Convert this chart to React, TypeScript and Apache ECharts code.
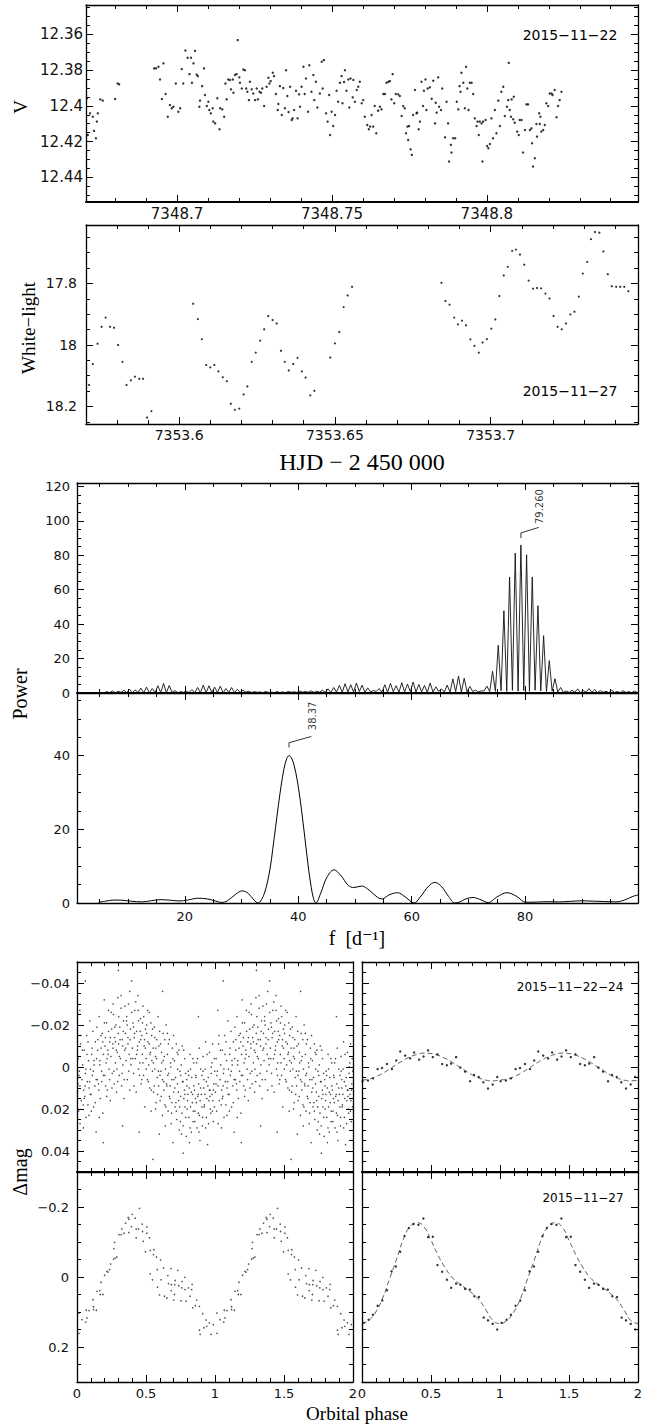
import React, { useEffect, useRef } from 'react';
import * as echarts from 'echarts';

// V-band photometry of 2015-11-22: [HJD - 2 450 000, V]
const V_2211: number[][] = [
  [7348.6709,12.3958],[7348.6712,12.4163],[7348.6719,12.4042],[7348.6728,12.4061],[7348.6732,12.4140],[7348.6738,12.4181],
  [7348.6741,12.4088],[7348.6744,12.4042],[7348.6752,12.3964],[7348.6760,12.3971],[7348.6800,12.3962],[7348.6808,12.3875],
  [7348.6813,12.3880],[7348.6926,12.3791],[7348.6932,12.3791],[7348.6940,12.3782],[7348.6945,12.3853],[7348.6951,12.3962],
  [7348.6956,12.3763],[7348.6963,12.3934],[7348.6970,12.4061],[7348.6977,12.3996],[7348.6983,12.4014],[7348.6988,12.4005],
  [7348.6996,12.3875],[7348.7004,12.4033],[7348.7010,12.4014],[7348.7015,12.3795],[7348.7020,12.3875],[7348.7027,12.3691],
  [7348.7034,12.3732],[7348.7040,12.3823],[7348.7045,12.3732],[7348.7048,12.3871],[7348.7053,12.3763],[7348.7058,12.3693],
  [7348.7063,12.3825],[7348.7067,12.3834],[7348.7072,12.4005],[7348.7074,12.3971],[7348.7081,12.3890],[7348.7087,12.3791],
  [7348.7090,12.3940],[7348.7096,12.4001],[7348.7101,12.3977],[7348.7104,12.4023],[7348.7109,12.4042],[7348.7115,12.4014],
  [7348.7117,12.4088],[7348.7123,12.4098],[7348.7130,12.3958],[7348.7137,12.4131],[7348.7139,12.4014],[7348.7146,12.4020],
  [7348.7152,12.4061],[7348.7156,12.3875],[7348.7160,12.3964],[7348.7165,12.3853],[7348.7171,12.3856],[7348.7174,12.3908],
  [7348.7180,12.3853],[7348.7182,12.3927],[7348.7187,12.3828],[7348.7192,12.3823],[7348.7196,12.3633],[7348.7201,12.3841],
  [7348.7203,12.3871],[7348.7209,12.3903],[7348.7214,12.3797],[7348.7219,12.3801],[7348.7223,12.3903],[7348.7227,12.3921],
  [7348.7232,12.3968],[7348.7235,12.3866],[7348.7241,12.3908],[7348.7246,12.3931],[7348.7252,12.3968],[7348.7257,12.3903],
  [7348.7261,12.3964],[7348.7266,12.3921],[7348.7271,12.3927],[7348.7275,12.3903],[7348.7281,12.4001],[7348.7289,12.3893],
  [7348.7295,12.3843],[7348.7298,12.3875],[7348.7302,12.3862],[7348.7309,12.3815],[7348.7313,12.3834],[7348.7319,12.3934],
  [7348.7325,12.4023],[7348.7327,12.3990],[7348.7332,12.3890],[7348.7338,12.4051],[7348.7343,12.3901],[7348.7348,12.4014],
  [7348.7352,12.3801],[7348.7356,12.3945],[7348.7360,12.4035],[7348.7365,12.3893],[7348.7370,12.4079],[7348.7373,12.4070],
  [7348.7378,12.4023],[7348.7384,12.3916],[7348.7389,12.4070],[7348.7394,12.3936],[7348.7397,12.4005],[7348.7402,12.3893],
  [7348.7408,12.3782],[7348.7412,12.3934],[7348.7416,12.3847],[7348.7423,12.4033],[7348.7427,12.3773],[7348.7434,12.3921],
  [7348.7440,12.3828],[7348.7443,12.3968],[7348.7448,12.3866],[7348.7453,12.4009],[7348.7461,12.3931],[7348.7467,12.3754],
  [7348.7470,12.3903],[7348.7474,12.3745],[7348.7481,12.4042],[7348.7486,12.4088],[7348.7491,12.3940],[7348.7494,12.4163],
  [7348.7499,12.4033],[7348.7504,12.4113],[7348.7510,12.4051],[7348.7515,12.3916],[7348.7520,12.3977],[7348.7526,12.3871],
  [7348.7531,12.3834],[7348.7534,12.3986],[7348.7539,12.3867],[7348.7542,12.3801],[7348.7547,12.3916],[7348.7553,12.3853],
  [7348.7556,12.4009],[7348.7560,12.3847],[7348.7567,12.3953],[7348.7569,12.3856],[7348.7574,12.3977],[7348.7580,12.3912],
  [7348.7585,12.3893],[7348.7590,12.3866],[7348.7596,12.3986],[7348.7601,12.3968],[7348.7606,12.4061],[7348.7614,12.4107],
  [7348.7619,12.4131],[7348.7623,12.4116],[7348.7628,12.4051],[7348.7633,12.4116],[7348.7638,12.4001],[7348.7643,12.4153],
  [7348.7649,12.4027],[7348.7655,12.4005],[7348.7660,12.4020],[7348.7666,12.3934],[7348.7671,12.3934],[7348.7676,12.3871],
  [7348.7682,12.3866],[7348.7687,12.3862],[7348.7692,12.3964],[7348.7696,12.3823],[7348.7701,12.3986],[7348.7706,12.3934],
  [7348.7714,12.3936],[7348.7719,12.3945],[7348.7725,12.4057],[7348.7730,12.4001],[7348.7735,12.4014],[7348.7739,12.4153],
  [7348.7744,12.4116],[7348.7746,12.4191],[7348.7749,12.4113],[7348.7754,12.4243],[7348.7758,12.4274],[7348.7762,12.4051],
  [7348.7768,12.3912],[7348.7773,12.4042],[7348.7775,12.4038],[7348.7780,12.4131],[7348.7784,12.4088],[7348.7789,12.3866],
  [7348.7794,12.4001],[7348.7797,12.3916],[7348.7802,12.3853],[7348.7805,12.4023],[7348.7809,12.3903],[7348.7816,12.3897],
  [7348.7822,12.3960],[7348.7827,12.3860],[7348.7833,12.4098],[7348.7835,12.3983],[7348.7838,12.4038],[7348.7843,12.3841],
  [7348.7846,12.4005],[7348.7852,12.4023],[7348.7856,12.3903],[7348.7865,12.4176],[7348.7870,12.3977],[7348.7875,12.4098],
  [7348.7878,12.4311],[7348.7884,12.4218],[7348.7886,12.4261],[7348.7891,12.4181],[7348.7898,12.4181],[7348.7903,12.3977],
  [7348.7908,12.4020],[7348.7912,12.3890],[7348.7915,12.3921],[7348.7918,12.3815],[7348.7924,12.3871],[7348.7929,12.4014],
  [7348.7933,12.3782],[7348.7937,12.3903],[7348.7941,12.4023],[7348.7945,12.3871],[7348.7951,12.3871],[7348.7956,12.3934],
  [7348.7961,12.4070],[7348.7967,12.4113],[7348.7970,12.4088],[7348.7974,12.4163],[7348.7977,12.4088],[7348.7983,12.4098],
  [7348.7986,12.4311],[7348.7988,12.4088],[7348.7996,12.4079],[7348.8001,12.4224],[7348.8005,12.4237],[7348.8010,12.4213],
  [7348.8015,12.4070],[7348.8020,12.4181],[7348.8026,12.4023],[7348.8031,12.4153],[7348.8037,12.3971],[7348.8042,12.4113],
  [7348.8047,12.3921],[7348.8053,12.3893],[7348.8058,12.4057],[7348.8065,12.4005],[7348.8069,12.3968],[7348.8071,12.3760],
  [7348.8074,12.4023],[7348.8078,12.4061],[7348.8080,12.3964],[7348.8085,12.4075],[7348.8087,12.3949],[7348.8090,12.4094],
  [7348.8098,12.4144],[7348.8103,12.4163],[7348.8106,12.4079],[7348.8112,12.4079],[7348.8117,12.4261],[7348.8123,12.4135],
  [7348.8128,12.3992],[7348.8133,12.3992],[7348.8139,12.4135],[7348.8144,12.4126],[7348.8146,12.4209],[7348.8149,12.4339],
  [7348.8155,12.4293],[7348.8160,12.4101],[7348.8162,12.4172],[7348.8169,12.4042],[7348.8171,12.4101],[7348.8173,12.4061],
  [7348.8176,12.4144],[7348.8182,12.4135],[7348.8187,12.4107],[7348.8192,12.3986],[7348.8198,12.4001],[7348.8203,12.3931],
  [7348.8209,12.3931],[7348.8212,12.3940],[7348.8219,12.3912],[7348.8225,12.4064],[7348.8230,12.4001],[7348.8235,12.3968],
  [7348.8241,12.3921],
];

// White-light photometry of 2015-11-27: [HJD - 2 450 000, mag]
const WL_2711: number[][] = [
  [7353.5711,18.130],[7353.5723,18.062],[7353.5738,17.996],[7353.5751,17.941],[7353.5764,17.911],[7353.5778,17.941],
  [7353.5791,17.944],[7353.5804,18.000],[7353.5818,18.055],[7353.5831,18.130],[7353.5845,18.115],[7353.5858,18.103],
  [7353.5872,18.110],[7353.5884,18.110],[7353.5897,18.236],[7353.5911,18.215],[7353.6045,17.866],[7353.6060,17.916],
  [7353.6073,17.981],[7353.6087,18.065],[7353.6100,18.073],[7353.6113,18.065],[7353.6126,18.086],[7353.6140,18.105],
  [7353.6153,18.118],[7353.6166,18.191],[7353.6179,18.211],[7353.6193,18.207],[7353.6207,18.161],[7353.6219,18.135],
  [7353.6233,18.055],[7353.6246,18.025],[7353.6260,17.986],[7353.6273,17.949],[7353.6286,17.906],[7353.6300,17.919],
  [7353.6313,17.930],[7353.6327,18.019],[7353.6339,18.055],[7353.6352,18.083],[7353.6366,18.062],[7353.6380,18.042],
  [7353.6394,18.086],[7353.6406,18.106],[7353.6421,18.164],[7353.6434,18.149],[7353.6485,18.041],[7353.6500,17.995],
  [7353.6514,17.958],[7353.6528,17.877],[7353.6541,17.839],[7353.6555,17.811],[7353.6842,17.798],[7353.6855,17.857],
  [7353.6868,17.869],[7353.6883,17.911],[7353.6895,17.933],[7353.6908,17.921],[7353.6921,17.936],[7353.6935,17.982],
  [7353.6948,18.003],[7353.6962,18.025],[7353.6974,17.992],[7353.6988,17.981],[7353.7002,17.947],[7353.7015,17.917],
  [7353.7028,17.841],[7353.7042,17.774],[7353.7055,17.746],[7353.7069,17.694],[7353.7081,17.690],[7353.7094,17.706],
  [7353.7108,17.739],[7353.7122,17.791],[7353.7136,17.817],[7353.7149,17.815],[7353.7162,17.816],[7353.7176,17.833],
  [7353.7189,17.849],[7353.7202,17.906],[7353.7215,17.941],[7353.7228,17.949],[7353.7242,17.930],[7353.7256,17.901],
  [7353.7269,17.892],[7353.7283,17.843],[7353.7296,17.768],[7353.7310,17.730],[7353.7322,17.656],[7353.7335,17.633],
  [7353.7349,17.635],[7353.7362,17.696],[7353.7376,17.770],[7353.7389,17.809],[7353.7403,17.811],[7353.7416,17.811],
  [7353.7429,17.811],[7353.7442,17.825],
];

// Periodogram of the V data: alias peaks on a 1 d^-1 grid starting at PW_V_F0,
// with the power at each peak and in the dip that follows it.
const PW_V_F0 = 5.26;
const PW_V_STEP = 1.0;
const PW_V_PEAKS = [
  0.4, 0.8, 1.2, 1.0, 1.6, 2.2, 1.8, 2.8, 3.4, 2.6,
  4.2, 5.6, 4.4, 1.4, 0.8, 1.0, 2.0, 3.2, 4.6, 4.2,
  3.4, 4.0, 2.6, 3.2, 2.2, 1.6, 1.0, 0.8, 0.6, 0.9,
  0.5, 0.8, 0.6, 0.9, 0.7, 1.1, 0.9, 1.3, 1.0, 1.6,
  2.4, 3.2, 4.4, 5.4, 4.8, 5.8, 4.6, 3.0, 1.4, 2.6,
  4.8, 5.6, 4.2, 6.0, 5.2, 6.4, 5.0, 4.4, 5.8, 3.6,
  2.4, 4.6, 8.2, 9.8, 8.6, 3.8, 1.6, 1.2, 4.0, 12.6,
  27.7, 47.8, 67.4, 81.3, 86.0, 80.3, 67.4, 50.7, 33.3, 18.8,
  8.3, 3.2, 1.2, 1.6, 2.4, 1.4, 2.6, 2.0, 1.4, 1.0,
  1.6, 0.9, 1.3, 0.8, 1.1,
];
const PW_V_DIPS = [
  0.1, 0.2, 0.1, 0.3, 0.2, 0.1, 0.3, 0.2, 0.1, 0.3,
  0.2, 0.1, 0.3, 0.2, 0.4, 0.3, 0.1, 0.2, 0.1, 0.3,
  0.2, 0.1, 0.3, 0.2, 0.4, 0.5, 0.3, 0.4, 0.2, 0.3,
  0.2, 0.3, 0.2, 0.4, 0.3, 0.5, 0.4, 0.3, 0.5, 0.4,
  0.3, 0.5, 0.4, 0.6, 0.5, 0.8, 0.4, 0.6, 0.9, 0.5,
  0.4, 0.7, 0.5, 0.6, 0.8, 0.5, 0.7, 0.4, 0.6, 1.0,
  0.6, 0.4, 0.8, 0.5, 0.7, 0.9, 0.6, 1.2, 0.8, 1.0,
  1.3, 0.9, 1.5, 1.1, 1.4, 1.0, 1.6, 1.2, 0.9, 1.1,
  0.6, 0.4, 0.3, 0.5, 0.2, 0.4, 0.3, 0.2, 0.4, 0.2,
  0.3, 0.2, 0.3, 0.2, 0.3,
];
const PEAK_V = 79.26;

// Periodogram of the white-light data: [f (1/d), power]
const PW_WL: number[][] = [
  [4.8,0.2],[6,0.5],[7.5,0.8],[9,0.75],[10.5,0.5],[12.5,0.3],[14,0.6],[15.8,0.9],[17.5,0.75],[19,0.55],
  [20.5,0.8],[22.3,1.3],[24,1.1],[25.5,0.5],[26.5,0.15],[27.5,0.6],[29,2.4],[30.1,3.3],[31.2,2.6],[32.2,0.8],
  [32.9,0],[34,2.5],[35,9],[35.5,14.5],[36,20.5],[36.5,26.5],[37,32],[37.5,36.5],[38,39.3],[38.37,40],
  [38.8,39.4],[39.3,37.2],[39.8,33.5],[40.3,28.5],[40.8,22.5],[41.3,16],[41.8,9.5],[42.3,4.2],[42.7,1.2],[43.1,0],
  [44,2.8],[45,6.8],[46.3,9],[47.5,7.5],[48.8,4.8],[49.8,4.2],[51.2,4.6],[52.5,3.5],[54,1.5],[54.8,1.1],
  [56,2.2],[57.5,2.8],[59,1.5],[60.4,0],[61.5,1.6],[63,4.6],[64.1,5.6],[65.3,4.4],[66.5,1.8],[67.6,0],
  [68.5,0.3],[69.5,1.1],[70.8,1.5],[72,1.0],[73.5,0.1],[75,1.6],[76.8,2.8],[78.5,1.8],[80.1,0.2],[82,0.25],
  [84,0.35],[86,0.3],[88,0.45],[90,0.6],[92,0.5],[94,0.4],[96,0.3],[97.5,0.8],[99,1.8],[100,2.2],
];
const PEAK_WL = 38.37;

// 2015-11-22..24 V data folded on the orbital period: [phase, dmag]
const PH_V_ALL: number[][] = [
  [0.003,0.012],[0.008,-0.004],[0.012,0.021],[0.017,0.002],[0.021,0.009],[0.026,-0.011],[0.031,0.016],[0.036,0.006],
  [0.041,-0.001],[0.046,0.029],[0.048,0.011],[0.052,-0.008],[0.056,0.014],[0.061,0.003],[0.065,0.024],[0.07,-0.015],
  [0.074,0.007],[0.079,0.018],[0.083,-0.003],[0.088,0.010],[0.093,-0.022],[0.097,0.001],[0.102,0.013],[0.106,-0.006],
  [0.111,0.004],[0.115,-0.017],[0.12,0.019],[0.124,-0.001],[0.129,0.009],[0.133,-0.012],[0.138,0.031],[0.142,-0.004],
  [0.147,0.006],[0.151,-0.013],[0.156,0.008],[0.16,-0.024],[0.165,-0.003],[0.169,0.015],[0.174,-0.009],[0.178,0.002],
  [0.183,-0.016],[0.187,0.022],[0.192,-0.006],[0.197,-0.032],[0.201,0.004],[0.205,-0.014],[0.21,-0.002],[0.214,-0.021],
  [0.219,0.011],[0.223,-0.008],[0.228,-0.027],[0.232,0.001],[0.237,-0.012],[0.241,0.016],[0.246,-0.005],[0.251,-0.018],
  [0.255,0.003],[0.26,-0.009],[0.264,-0.025],[0.269,0.008],[0.273,-0.014],[0.278,-0.002],[0.282,-0.020],[0.287,0.012],
  [0.291,-0.007],[0.296,-0.033],[0.301,-0.011],[0.305,0.004],[0.31,-0.019],[0.314,-0.004],[0.319,-0.028],[0.323,0.009],
  [0.328,-0.013],[0.332,-0.001],[0.337,-0.022],[0.341,0.015],[0.346,-0.008],[0.351,-0.016],[0.355,-0.003],[0.36,-0.024],
  [0.364,0.006],[0.369,-0.011],[0.373,-0.030],[0.378,-0.006],[0.382,0.011],[0.387,-0.018],[0.391,-0.001],[0.396,-0.041],
  [0.401,-0.009],[0.405,-0.021],[0.41,0.003],[0.414,-0.014],[0.419,-0.027],[0.423,-0.004],[0.428,0.012],[0.432,-0.017],
  [0.437,-0.008],[0.441,-0.034],[0.446,0.001],[0.451,-0.012],[0.455,-0.002],[0.46,-0.023],[0.464,0.008],[0.469,-0.015],
  [0.473,-0.006],[0.478,-0.029],[0.482,0.004],[0.487,-0.010],[0.491,0.019],[0.496,-0.018],[0.501,-0.004],[0.505,-0.020],
  [0.51,0.006],[0.514,-0.012],[0.519,-0.001],[0.523,-0.026],[0.528,0.010],[0.532,-0.007],[0.537,0.021],[0.541,-0.015],
  [0.546,0.002],[0.551,-0.009],[0.555,0.012],[0.56,-0.019],[0.564,0.001],[0.569,-0.005],[0.573,0.017],[0.578,-0.013],
  [0.582,0.005],[0.587,-0.024],[0.591,0.009],[0.596,0.032],[0.601,0.004],[0.605,-0.011],[0.61,0.014],[0.614,-0.002],
  [0.619,0.023],[0.623,-0.016],[0.628,0.007],[0.632,-0.005],[0.637,0.018],[0.641,0.001],[0.646,-0.020],[0.651,0.009],
  [0.655,-0.006],[0.66,0.021],[0.664,0.003],[0.669,-0.013],[0.673,0.015],[0.678,-0.002],[0.682,0.027],[0.687,0.006],
  [0.691,-0.009],[0.696,0.036],[0.701,0.012],[0.705,-0.003],[0.71,0.019],[0.714,0.005],[0.719,-0.011],[0.723,0.025],
  [0.728,0.008],[0.732,-0.006],[0.737,0.016],[0.741,0.030],[0.746,0.002],[0.751,0.014],[0.755,-0.001],[0.76,0.022],
  [0.764,0.007],[0.769,0.028],[0.773,-0.008],[0.778,0.011],[0.782,0.019],[0.787,0.003],[0.791,0.033],[0.796,0.009],
  [0.801,0.016],[0.805,0.002],[0.81,0.024],[0.814,0.010],[0.819,-0.006],[0.823,0.019],[0.828,0.031],[0.832,0.005],
  [0.837,0.013],[0.841,0.026],[0.846,-0.002],[0.851,0.011],[0.855,0.021],[0.86,0.004],[0.864,0.017],[0.869,0.029],
  [0.873,-0.004],[0.878,0.013],[0.882,0.008],[0.887,0.023],[0.891,0.035],[0.896,0.001],[0.901,0.013],[0.905,0.004],
  [0.91,0.024],[0.914,-0.005],[0.919,0.010],[0.923,0.018],[0.928,0.001],[0.932,0.029],[0.937,0.007],[0.941,0.015],
  [0.946,0.037],[0.951,0.005],[0.955,0.016],[0.96,-0.007],[0.964,0.011],[0.969,0.022],[0.973,0.000],[0.978,0.013],
  [0.982,-0.011],[0.987,0.026],[0.991,0.008],[0.996,0.019],[0.06,-0.041],[0.19,0.036],[0.3,-0.046],[0.55,0.044],
  [0.62,-0.036],[0.77,0.041],[0.45,0.031],[0.88,-0.024],[0.33,0.028],[0.02,-0.027],
  [0.0137,0.004],[0.0291,-0.015],[0.0442,0.018],[0.0583,0.009],[0.0714,-0.006],[0.0865,0.023],[0.0952,0.013],
  [0.1088,-0.009],[0.1173,0.002],[0.1319,0.017],[0.1436,-0.019],[0.1578,0.011],[0.1645,-0.001],[0.1792,0.007],
  [0.1867,-0.012],[0.1983,-0.021],[0.2074,0.009],[0.2181,-0.004],[0.2296,-0.017],[0.2358,0.006],[0.2472,-0.026],
  [0.2589,-0.011],[0.2667,0.002],[0.2734,-0.019],[0.2851,-0.008],[0.2946,0.007],[0.3027,-0.024],[0.3118,-0.013],
  [0.3262,0.003],[0.3349,-0.017],[0.3471,-0.029],[0.3523,-0.009],[0.3636,-0.020],[0.3752,0.002],[0.3847,-0.013],
  [0.3961,-0.026],[0.4038,-0.004],[0.4173,-0.016],[0.4251,-0.031],[0.4389,-0.010],[0.4467,-0.022],[0.4524,0.004],
  [0.4613,-0.013],[0.4776,-0.002],[0.4832,-0.024],[0.4958,-0.009],[0.5043,-0.016],[0.5169,0.007],[0.5236,-0.011],
  [0.5347,-0.021],[0.5419,-0.003],[0.5582,0.009],[0.5637,-0.014],[0.5761,-0.004],[0.5848,0.013],[0.5935,-0.010],
  [0.6067,0.002],[0.6123,-0.007],[0.6284,0.011],[0.6359,-0.013],[0.6436,0.019],[0.6573,0.004],[0.6618,-0.011],
  [0.6745,0.009],[0.6852,0.022],[0.6938,-0.004],[0.7024,0.006],[0.7163,0.017],[0.7247,-0.007],[0.7339,0.012],
  [0.7485,0.026],[0.7516,0.004],[0.7628,-0.010],[0.7742,0.015],[0.7871,0.024],[0.7953,0.006],[0.8036,0.013],
  [0.8184,0.029],[0.8227,0.001],[0.8352,0.017],[0.8461,0.009],[0.8538,0.026],[0.8673,-0.002],[0.8745,0.014],
  [0.8836,0.031],[0.8962,0.010],[0.9047,0.019],[0.9131,0.002],[0.9268,0.013],[0.9374,0.024],[0.9423,-0.006],
  [0.9586,0.011],[0.9659,0.020],[0.9718,0.003],[0.9842,0.016],[0.9937,-0.004],
  [0.0068,0.008],[0.0216,0.027],[0.0379,-0.008],[0.0527,0.015],[0.0641,0.001],[0.0796,-0.012],[0.0913,0.007],
  [0.1041,0.021],[0.1226,-0.003],[0.1384,0.006],[0.1497,-0.008],[0.1612,0.024],[0.1739,-0.015],[0.1911,0.004],
  [0.2029,-0.010],[0.2146,0.014],[0.2253,-0.006],[0.2417,-0.014],[0.2536,0.010],[0.2618,-0.030],[0.2781,-0.012],
  [0.2893,0.001],[0.2987,-0.016],[0.3072,-0.005],[0.3194,-0.034],[0.3305,-0.010],[0.3418,0.006],[0.3586,-0.022],
  [0.3691,-0.014],[0.3817,-0.036],[0.3893,-0.004],[0.4092,-0.019],[0.4127,0.009],[0.4316,-0.006],[0.4428,-0.027],
  [0.4579,-0.017],[0.4693,0.006],[0.4741,-0.021],[0.4887,-0.013],[0.5012,0.001],[0.5118,-0.027],[0.5283,-0.006],
  [0.5391,0.011],[0.5472,-0.018],[0.5529,-0.002],[0.5694,0.020],[0.5716,-0.009],[0.5894,0.002],[0.5987,-0.017],
  [0.6018,0.016],[0.6191,0.006],[0.6247,-0.003],[0.6392,0.028],[0.6487,0.008],[0.6544,-0.016],[0.6689,0.014],
  [0.6793,0.000],[0.6879,0.017],[0.6997,-0.015],[0.7089,0.010],[0.7196,0.021],[0.7293,0.001],[0.7381,-0.008],
  [0.7437,0.019],[0.7577,0.032],[0.7686,0.007],[0.7794,-0.004],[0.7816,0.013],[0.7987,0.020],[0.8091,0.004],
  [0.8147,0.036],[0.8278,0.012],[0.8396,-0.004],[0.8419,0.021],[0.8584,0.015],[0.8626,0.005],[0.8793,0.022],
  [0.8857,-0.009],[0.8918,0.016],[0.9086,0.028],[0.9192,0.006],[0.9219,0.019],[0.9317,-0.012],[0.9478,0.009],
  [0.9531,0.027],[0.9627,0.014],[0.9776,-0.002],[0.9814,0.021],[0.9889,0.011],[0.9976,0.002],
];
// Same data averaged in phase bins
const PH_V_BIN: number[][] = [
  [0.004,0.0068],[0.043,0.0064],[0.079,0.0054],[0.113,0.0010],[0.145,0.0005],[0.181,-0.0014],[0.217,0.0010],
  [0.248,-0.0031],[0.277,-0.0074],[0.313,-0.0054],[0.349,-0.0041],[0.378,-0.0069],[0.414,-0.0035],[0.446,-0.0050],
  [0.479,-0.0079],[0.513,-0.0047],[0.547,-0.0060],[0.581,-0.0014],[0.615,-0.0008],[0.646,-0.0016],[0.682,-0.0047],
  [0.713,0.0003],[0.747,0.0022],[0.783,0.0068],[0.812,0.0038],[0.846,0.0048],[0.879,0.0073],[0.913,0.0102],
  [0.947,0.0083],[0.980,0.0048],
];
// Fitted light curve for the binned V data
const PH_V_FIT: number[][] = [
  [0,0.0062],[0.05,0.0058],[0.1,0.0047],[0.15,0.0030],[0.2,0.0010],[0.25,-0.0012],[0.3,-0.0032],[0.35,-0.0049],
  [0.4,-0.0060],[0.45,-0.0066],[0.5,-0.0064],[0.55,-0.0056],[0.6,-0.0042],[0.65,-0.0024],[0.7,-0.0003],
  [0.75,0.0018],[0.8,0.0038],[0.85,0.0053],[0.9,0.0063],[0.95,0.0066],[1,0.0062],
];

// 2015-11-27 white-light data folded on the orbital period: [phase, dmag]
const PH_WL_ALL: number[][] = [
  [0.014,0.103],[0.014,0.161],[0.036,0.122],[0.063,0.129],[0.067,0.095],[0.072,0.117],[0.087,0.096],[0.116,0.065],
  [0.120,0.093],[0.120,0.085],[0.140,0.095],[0.145,0.041],[0.164,0.039],[0.169,0.050],[0.173,0.015],[0.188,0.050],
  [0.200,-0.005],[0.217,-0.016],[0.224,-0.014],[0.236,-0.021],[0.243,-0.037],[0.265,-0.051],[0.277,-0.054],[0.289,-0.057],
  [0.267,-0.081],[0.272,-0.099],[0.304,-0.121],[0.320,-0.121],[0.325,-0.137],[0.340,-0.125],[0.352,-0.154],[0.371,-0.170],
  [0.376,-0.165],[0.376,-0.127],[0.400,-0.179],[0.395,-0.144],[0.422,-0.168],[0.429,-0.112],[0.429,-0.137],[0.446,-0.137],
  [0.453,-0.196],[0.472,-0.151],[0.475,-0.130],[0.480,-0.102],[0.506,-0.143],[0.506,-0.125],[0.525,-0.112],[0.496,-0.072],
  [0.530,-0.076],[0.557,-0.078],[0.554,-0.064],[0.576,-0.057],[0.605,-0.049],[0.581,-0.021],[0.627,-0.026],[0.680,-0.024],
  [0.730,-0.019],[0.530,-0.009],[0.547,0.008],[0.610,0.008],[0.658,-0.004],[0.711,0.010],[0.761,0.013],[0.781,0.001],
  [0.663,0.019],[0.684,0.022],[0.708,0.022],[0.737,0.025],[0.759,0.031],[0.783,0.036],[0.807,0.031],[0.834,0.021],
  [0.831,0.036],[0.583,0.029],[0.682,0.039],[0.706,0.050],[0.598,0.051],[0.634,0.055],[0.651,0.060],[0.701,0.066],
  [0.754,0.068],[0.790,0.069],[0.819,0.055],[0.867,0.066],[0.839,0.088],[0.858,0.082],[0.887,0.084],[0.911,0.105],
  [0.935,0.123],[0.959,0.131],[0.988,0.136],[0.920,0.145],[0.940,0.141],[0.887,0.152],[0.892,0.164],[0.971,0.164],
];
// Same data averaged in phase bins
const PH_WL_BIN: number[][] = [
  [0.012,0.131],[0.048,0.122],[0.079,0.108],[0.113,0.082],[0.147,0.067],[0.181,0.038],[0.214,-0.016],[0.246,-0.030],
  [0.277,-0.072],[0.308,-0.117],[0.340,-0.140],[0.373,-0.151],[0.409,-0.149],[0.445,-0.167],[0.479,-0.114],[0.513,-0.115],
  [0.547,-0.034],[0.581,-0.015],[0.615,0.008],[0.646,0.031],[0.682,0.019],[0.713,0.022],[0.747,0.034],[0.781,0.036],
  [0.814,0.055],[0.848,0.057],[0.882,0.116],[0.913,0.124],[0.947,0.134],[0.980,0.150],
];
// Fitted light curve for the binned white-light data
const PH_WL_FIT: number[][] = [
  [0,0.133],[0.05,0.124],[0.1,0.100],[0.15,0.060],[0.2,0.005],[0.25,-0.050],[0.3,-0.108],[0.35,-0.145],
  [0.4,-0.155],[0.45,-0.143],[0.5,-0.105],[0.55,-0.063],[0.6,-0.028],[0.65,0.000],[0.7,0.018],[0.75,0.032],
  [0.8,0.047],[0.85,0.066],[0.9,0.095],[0.95,0.125],[1,0.133],
];

// Panel boxes in pixels
const GRIDS = [
  { left: 86, top: 5, width: 552, height: 197 },
  { left: 86, top: 225, width: 552, height: 199 },
  { left: 77, top: 483, width: 561, height: 210 },
  { left: 77, top: 693, width: 561, height: 210 },
  { left: 77, top: 962, width: 276, height: 210 },
  { left: 362, top: 962, width: 276, height: 210 },
  { left: 77, top: 1172, width: 276, height: 210 },
  { left: 362, top: 1172, width: 276, height: 210 },
];

type AxSpec = {
  min: number; max: number; step: number; minor: number;
  inverse?: boolean; labels: boolean; size?: number; margin?: number; width?: number;
};

const AXES: { x: AxSpec; y: AxSpec }[] = [
  { x: { min: 7348.6706, max: 7348.8488, step: 0.05, minor: 5, labels: true, size: 15, margin: 4, width: 2 },
    y: { min: 12.3437, max: 12.4537, step: 0.02, minor: 4, inverse: true, labels: true, size: 15, margin: 3 } },
  { x: { min: 7353.5701, max: 7353.7473, step: 0.05, minor: 5, labels: true, size: 14, margin: 4 },
    y: { min: 17.61, max: 18.257, step: 0.2, minor: 4, inverse: true, labels: true, size: 14, margin: 9 } },
  { x: { min: 1, max: 99.9, step: 20, minor: 4, labels: false, width: 2 },
    y: { min: 0, max: 122, step: 20, minor: 4, labels: true, size: 13, margin: 7 } },
  { x: { min: 1, max: 99.9, step: 20, minor: 4, labels: true, size: 13, margin: 7 },
    y: { min: 0, max: 57, step: 20, minor: 4, labels: true, size: 13, margin: 7 } },
  { x: { min: 0, max: 2, step: 0.5, minor: 5, labels: false, width: 2 },
    y: { min: -0.05, max: 0.05, step: 0.02, minor: 4, inverse: true, labels: true, size: 13, margin: 7 } },
  { x: { min: 0, max: 2, step: 0.5, minor: 5, labels: false, width: 2 },
    y: { min: -0.05, max: 0.05, step: 0.02, minor: 4, inverse: true, labels: false } },
  { x: { min: 0, max: 2, step: 0.5, minor: 5, labels: true, size: 13, margin: 5 },
    y: { min: -0.3, max: 0.3, step: 0.2, minor: 4, inverse: true, labels: true, size: 13, margin: 8 } },
  { x: { min: 0, max: 2, step: 0.5, minor: 5, labels: true, size: 13, margin: 5 },
    y: { min: -0.3, max: 0.3, step: 0.2, minor: 4, inverse: true, labels: false } },
];

const tickFormatter = (step: number) => (v: number) => {
  const r = v / step;
  const n = Math.round(r);
  if (Math.abs(r - n) > 1e-6) return '';
  return String(parseFloat((n * step).toFixed(6))).replace('-', '\u2212');
};

function makeAxis(gridIndex: number, s: AxSpec, position: string, showLabels: boolean, lineWidth: number) {
  return {
    type: 'value',
    gridIndex,
    position,
    min: s.min,
    max: s.max,
    minInterval: s.step,
    maxInterval: s.step,
    splitNumber: Math.max(1, Math.round((s.max - s.min) / s.step)),
    inverse: !!s.inverse,
    axisLine: { show: true, onZero: false, lineStyle: { color: '#000', width: lineWidth } },
    axisTick: { show: true, inside: true, length: 7, lineStyle: { color: '#000', width: 1 } },
    minorTick: { show: true, splitNumber: s.minor, length: 4, lineStyle: { color: '#000', width: 1 } },
    axisLabel: {
      show: showLabels,
      formatter: tickFormatter(s.step),
      margin: s.margin ?? 6,
      fontSize: s.size ?? 13,
      fontFamily: 'DejaVu Sans',
      color: '#111',
      showMinLabel: true,
      showMaxLabel: true,
    },
    splitLine: { show: false },
    minorSplitLine: { show: false },
  };
}

// Repeat a phased light curve over a second cycle
const twoCycles = (pts: number[][]) => pts.concat(pts.map(([p, v]) => [p + 1, v]));
const twoCyclesCurve = (pts: number[][]) => pts.concat(pts.slice(1).map(([p, v]) => [p + 1, v]));

function buildOption() {
  const xAxis: any[] = [];
  const yAxis: any[] = [];
  AXES.forEach((a, g) => {
    xAxis.push(makeAxis(g, a.x, 'bottom', a.x.labels, a.x.width ?? 1.3));
    xAxis.push(makeAxis(g, a.x, 'top', false, 1.3));
    yAxis.push(makeAxis(g, a.y, 'left', a.y.labels, 1.3));
    yAxis.push(makeAxis(g, a.y, 'right', false, 1.3));
  });

  const pwV: number[][] = [[4.8, 0]];
  PW_V_PEAKS.forEach((p, i) => {
    const f = PW_V_F0 + i * PW_V_STEP;
    pwV.push([f, p]);
    pwV.push([f + PW_V_STEP / 2, PW_V_DIPS[i]]);
  });

  const dot = (g: number, data: number[][], size: number, color: string) => ({
    type: 'scatter', xAxisIndex: 2 * g, yAxisIndex: 2 * g, data, symbol: 'circle',
    symbolSize: size, itemStyle: { color }, silent: true,
  });
  const line = (g: number, data: number[][], extra: any) => ({
    type: 'line', xAxisIndex: 2 * g, yAxisIndex: 2 * g, data, symbol: 'none', silent: true,
    ...extra,
  });
  const tag = (g: number, pos: number[], text: string) => ({
    type: 'scatter', xAxisIndex: 2 * g, yAxisIndex: 2 * g, data: [pos], symbolSize: 1,
    itemStyle: { color: 'rgba(0,0,0,0)' }, silent: true,
    label: { show: true, position: 'inside', formatter: text, rotate: 90, fontSize: 10,
      fontFamily: 'DejaVu Sans', color: '#000' },
  });

  const series = [
    dot(0, V_2211, 2.4, '#000'),
    dot(1, WL_2711, 2.2, '#000'),
    line(2, pwV, { lineStyle: { color: '#111', width: 0.9 } }),
    line(2, [[PEAK_V, 90], [PEAK_V, 93], [82.4, 96.2]], { lineStyle: { color: '#000', width: 0.8 } }),
    tag(2, [82.5, 108.3], PEAK_V.toFixed(3)),
    line(3, PW_WL, { smooth: 0.35, lineStyle: { color: '#000', width: 1 } }),
    line(3, [[PEAK_WL, 42.2], [PEAK_WL, 43.5], [42.3, 45.2]], { lineStyle: { color: '#000', width: 0.8 } }),
    tag(3, [42.5, 50.8], PEAK_WL.toFixed(2)),
    dot(4, twoCycles(PH_V_ALL), 1.5, '#1a1a1a'),
    dot(5, twoCycles(PH_V_BIN), 2.4, '#000'),
    line(5, twoCyclesCurve(PH_V_FIT), { smooth: true, lineStyle: { color: '#333', width: 0.8, type: [5, 3] } }),
    dot(6, twoCycles(PH_WL_ALL), 1.6, '#222'),
    dot(7, twoCycles(PH_WL_BIN), 2.4, '#000'),
    line(7, twoCyclesCurve(PH_WL_FIT), { smooth: true, lineStyle: { color: '#333', width: 0.8, type: [5, 3] } }),
  ];

  const serif = 'Liberation Serif, DejaVu Serif, serif';
  const sans = 'DejaVu Sans, sans-serif';
  const text = (t: string, x: number, y: number, font: string, rot = 0) => ({
    type: 'text', x, y, rotation: rot, silent: true,
    style: { text: t, font, fill: '#000', align: 'center', verticalAlign: 'middle',
      textAlign: 'center', textVerticalAlign: 'middle' },
  });
  const R = Math.PI / 2;
  const graphic = [
    text('V', 20, 107, `19px ${serif}`, R),
    text('White\u2212light', 28, 328, `19px ${serif}`, R),
    text('HJD \u2212 2 450 000', 362, 462, `24px ${serif}`),
    text('Power', 20, 694, `20px ${serif}`, R),
    text('f  [d\u207B\u00B9]', 357, 938, `20px ${serif}`),
    text('\u0394mag', 20, 1172, `20px ${serif}`, R),
    text('Orbital phase', 357, 1413, `19px ${serif}`),
    text('2015\u221211\u221222', 570, 35, `14px ${sans}`),
    text('2015\u221211\u221227', 570, 391, `14px ${sans}`),
    text('2015\u221211\u221222\u221224', 570, 987, `12px ${sans}`),
    text('2015\u221211\u221227', 583, 1198, `12px ${sans}`),
  ];

  return {
    animation: false,
    backgroundColor: '#fff',
    textStyle: { fontFamily: sans },
    grid: GRIDS.map((g) => ({ ...g, containLabel: false, outerBoundsMode: 'none', show: false })),
    xAxis,
    yAxis,
    series,
    graphic,
  };
}

export default function App() {
  const ref = useRef<HTMLDivElement>(null);
  useEffect(() => {
    if (!ref.current) return;
    const chart = echarts.init(ref.current, undefined, { renderer: 'svg' });
    chart.setOption(buildOption() as any);
    return () => chart.dispose();
  }, []);
  return (
    <div
      ref={ref}
      style={{ position: 'fixed', left: 0, top: 0, width: 659, height: 1426, background: '#fff' }}
    />
  );
}
